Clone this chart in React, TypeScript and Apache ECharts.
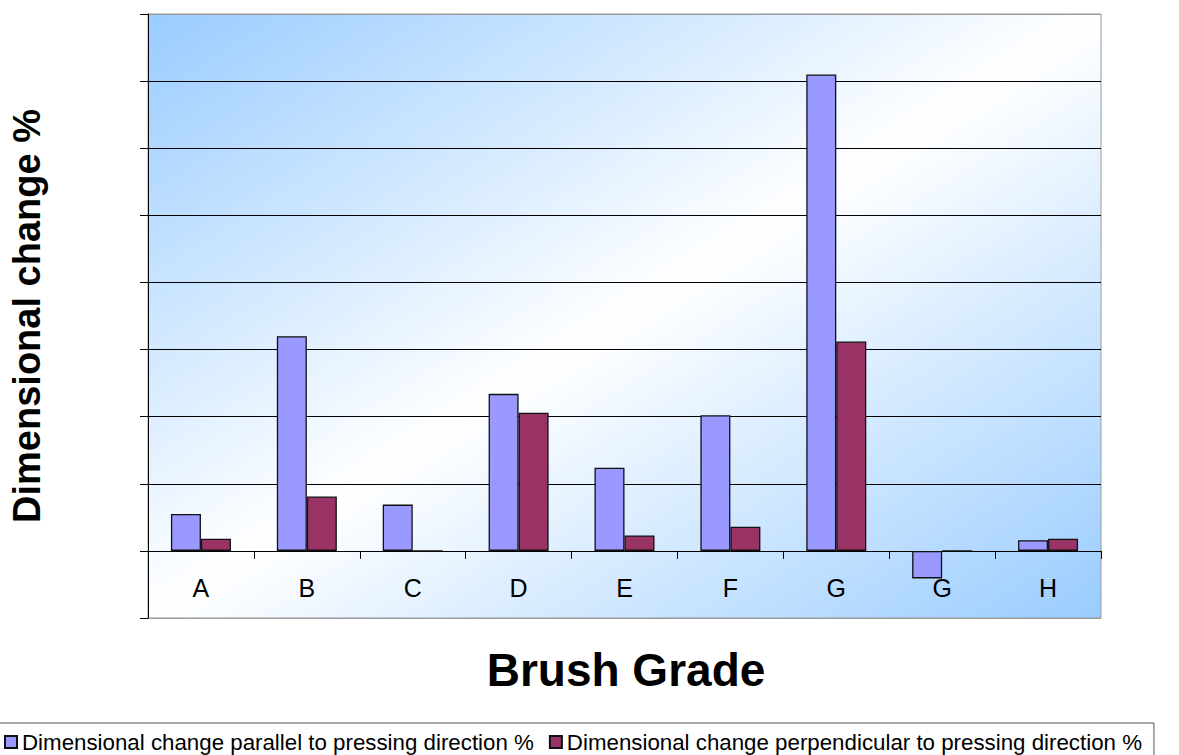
import React, { useEffect, useRef } from "react";
import * as echarts from "echarts";

const categories = ["A", "B", "C", "D", "E", "F", "G", "G", "H"];
const parallelValues = [0.55, 3.2, 0.69, 2.34, 1.24, 2.02, 7.1, -0.41, 0.16];
const perpendicularValues = [0.18, 0.81, 0, 2.06, 0.23, 0.36, 3.12, 0, 0.18];
const seriesNames = [
  "Dimensional change parallel to pressing direction %",
  "Dimensional change perpendicular to pressing direction %",
];
const yTitle = "Dimensional change %";
const xTitle = "Brush Grade";

const FONT = '"Liberation Sans", Arial, Helvetica, sans-serif';

export default function App() {
  const ref = useRef<HTMLDivElement>(null);
  useEffect(() => {
    if (!ref.current) return;
    const chart = echarts.init(ref.current, null, { renderer: "svg" });
    const splitColors = ["#9a9a9a", "#000", "#000", "#000", "#000", "#000", "#000", "#000", "#000", "#9a9a9a"];
    chart.setOption({
      animation: false,
      grid: {
        left: 148,
        right: 78,
        top: 14,
        bottom: 137,
        show: true,
        borderColor: "#9a9a9a",
        borderWidth: 1,
        backgroundColor: new echarts.graphic.LinearGradient(0, 0, 1, 1, [
          { offset: 0, color: "#99CCFF" },
          { offset: 0.5, color: "#FFFFFF" },
          { offset: 1, color: "#99CCFF" },
        ]),
      },
      legend: {
        data: seriesNames,
        left: -10,
        top: 723,
        orient: "horizontal",
        padding: [8, 12, 20, 14],
        itemGap: 15,
        itemWidth: 12,
        itemHeight: 12,
        icon: "rect",
        borderColor: "#555",
        borderWidth: 1,
        backgroundColor: "#fff",
        textStyle: { fontSize: 22.3, color: "#000", fontFamily: FONT },
      },
      xAxis: {
        type: "category",
        data: categories,
        axisLine: { onZero: true, lineStyle: { color: "#000", width: 1 } },
        axisTick: { show: true, alignWithLabel: false, length: 8, lineStyle: { color: "#000" } },
        axisLabel: { margin: -43, fontSize: 25, color: "#000", fontFamily: FONT },
        splitLine: { show: false },
      },
      yAxis: {
        type: "value",
        min: -1,
        max: 8,
        interval: 1,
        axisLine: { show: true, lineStyle: { color: "#000", width: 1 } },
        axisTick: { show: true, length: 8, lineStyle: { color: "#000" } },
        axisLabel: { show: false },
        splitLine: { show: true, lineStyle: { color: splitColors, width: 1 } },
      },
      graphic: [
        {
          type: "text",
          x: 27,
          y: 316,
          rotation: Math.PI / 2,
          style: {
            text: yTitle,
            font: `bold 38px ${FONT}`,
            fill: "#000",
            textAlign: "center",
            textVerticalAlign: "middle",
          },
        },
        {
          type: "text",
          x: 626,
          y: 670,
          style: {
            text: xTitle,
            font: `bold 46px ${FONT}`,
            fill: "#000",
            textAlign: "center",
            textVerticalAlign: "middle",
          },
        },
      ],
      series: [
        {
          name: seriesNames[0],
          type: "bar",
          data: parallelValues,
          barWidth: 30,
          barGap: "0%",
          itemStyle: { color: "#9999FF", borderColor: "#111", borderWidth: 1.3 },
        },
        {
          name: seriesNames[1],
          type: "bar",
          data: perpendicularValues,
          barWidth: 30,
          barGap: "0%",
          itemStyle: { color: "#993366", borderColor: "#111", borderWidth: 1.3 },
        },
      ],
    });
    return () => chart.dispose();
  }, []);
  return (
    <div
      ref={ref}
      style={{ position: "absolute", left: 0, top: 0, width: 1179, height: 755 }}
    />
  );
}
